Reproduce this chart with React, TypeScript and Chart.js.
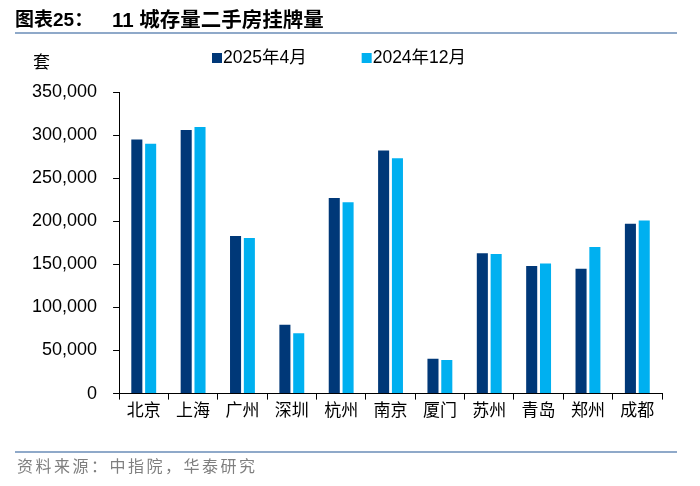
import React, { useEffect, useRef } from 'react';
import { Chart, registerables } from 'chart.js';

Chart.register(...registerables);

const categories = ['北京', '上海', '广州', '深圳', '杭州', '南京', '厦门', '苏州', '青岛', '郑州', '成都'];
const seriesApr2025 = [295000, 306000, 183000, 80000, 227000, 282000, 40500, 163000, 148000, 145000, 197000];
const seriesDec2024 = [290000, 309500, 180500, 70000, 222000, 273000, 39000, 162000, 151000, 170000, 201000];
const seriesNames = ['2025年4月', '2024年12月'];
const seriesColors = ['#003878', '#00B0F0'];
const yMin = 0;
const yMax = 350000;
const yStep = 50000;
const titleLead = '图表25：';
const titleMain = '11 城存量二手房挂牌量';
const unitLabel = '套';
const sourceNote = '资料来源：中指院，华泰研究';

const LATIN = "'Liberation Sans', Arial, 'Noto Sans CJK SC', sans-serif";
const CJK = "'Noto Sans CJK SC', sans-serif";

const decorPlugin = {
  id: 'decor',
  afterDraw(chart: any) {
    const ctx = chart.ctx as CanvasRenderingContext2D;
    ctx.save();
    ctx.textBaseline = 'middle';
    ctx.textAlign = 'left';
    // title
    ctx.fillStyle = '#000000';
    ctx.font = `bold 19px ${LATIN}`;
    ctx.fillText(titleLead, 15, 21);
    ctx.font = `bold 20.5px ${LATIN}`;
    ctx.fillText(titleMain, 112, 21);
    // rules
    ctx.strokeStyle = '#8FA9C9';
    ctx.lineWidth = 2;
    ctx.beginPath();
    ctx.moveTo(15, 33);
    ctx.lineTo(677, 33);
    ctx.moveTo(15, 452);
    ctx.lineTo(677, 452);
    ctx.stroke();
    // unit
    ctx.fillStyle = '#000000';
    ctx.font = `17px ${CJK}`;
    ctx.fillText(unitLabel, 33, 62);
    // legend
    ctx.font = `17.5px ${LATIN}`;
    let x = 212;
    chart.data.datasets.forEach((ds: any) => {
      ctx.fillStyle = ds.backgroundColor;
      ctx.fillRect(x, 53, 10, 10);
      ctx.fillStyle = '#000000';
      ctx.fillText(ds.label, x + 11, 58);
      x += 11 + ctx.measureText(ds.label).width + 55;
    });
    // source
    ctx.fillStyle = '#7F7F7F';
    ctx.font = `16px ${CJK}`;
    (ctx as any).letterSpacing = '2.5px';
    ctx.fillText(sourceNote, 17, 466);
    ctx.restore();
  },
};

export default function App() {
  const ref = useRef<HTMLCanvasElement | null>(null);
  useEffect(() => {
    if (!ref.current) return;
    const chart = new Chart(ref.current, {
      type: 'bar',
      data: {
        labels: categories,
        datasets: [
          {
            label: seriesNames[0],
            data: seriesApr2025,
            backgroundColor: seriesColors[0],
            categoryPercentage: 0.56,
            barPercentage: 0.8,
          },
          {
            label: seriesNames[1],
            data: seriesDec2024,
            backgroundColor: seriesColors[1],
            categoryPercentage: 0.56,
            barPercentage: 0.8,
          },
        ],
      },
      options: {
        responsive: false,
        animation: false,
        layout: { padding: { left: 16, right: 38, top: 92, bottom: 66 } },
        plugins: {
          legend: { display: false },
          title: { display: false },
          tooltip: { enabled: false },
        },
        scales: {
          x: {
            grid: {
              display: true,
              drawOnChartArea: false,
              drawTicks: true,
              tickLength: 6,
              color: '#000000',
              offset: true,
            },
            border: { display: true, color: '#000000', width: 1 },
            ticks: {
              color: '#000000',
              font: { family: CJK, size: 17 },
              padding: 0,
              maxRotation: 0,
              autoSkip: false,
            },
          },
          y: {
            min: yMin,
            max: yMax,
            grid: {
              display: true,
              drawOnChartArea: false,
              drawTicks: true,
              tickLength: 6,
              color: '#000000',
            },
            border: { display: true, color: '#000000', width: 1 },
            ticks: {
              stepSize: yStep,
              color: '#000000',
              font: { family: LATIN, size: 18 },
              padding: 16,
              callback: (v: any) => Number(v).toLocaleString('en-US'),
            },
          },
        },
      },
      plugins: [decorPlugin],
    });
    return () => chart.destroy();
  }, []);
  return (
    <div style={{ position: 'absolute', left: 0, top: 0, width: 700, height: 486, background: '#ffffff' }}>
      <canvas ref={ref} width={700} height={486} style={{ display: 'block', width: 700, height: 486 }} />
    </div>
  );
}
